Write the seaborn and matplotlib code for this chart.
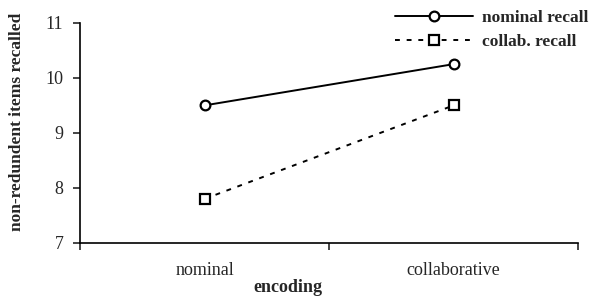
import seaborn as sns
import matplotlib.pyplot as plt
import pandas as pd
import numpy as np

# Data
encoding = ["nominal", "collaborative"]
nominal_recall = [9.5, 10.25]
collab_recall = [7.8, 9.5]
series_names = ["nominal recall", "collab. recall"]

sns.set_style("white")
plt.rcParams['font.family'] = ['Liberation Serif', 'DejaVu Serif']

pos = np.arange(len(encoding)) + 0.5
df = pd.DataFrame({
    'pos': list(pos) * 2,
    'encoding': encoding * 2,
    'recalled': nominal_recall + collab_recall,
    'series': [series_names[0]] * 2 + [series_names[1]] * 2,
})

fig = plt.figure(figsize=(5.93, 3.01), dpi=100)
ax = fig.add_axes([0.135, 0.193, 0.84, 0.731])

sns.lineplot(data=df, x='pos', y='recalled', style='series', style_order=series_names,
             markers={series_names[0]: 'o', series_names[1]: 's'},
             dashes={series_names[0]: '', series_names[1]: (2.5, 3.5)},
             color='black', linewidth=1.4, markersize=7, legend=False, ax=ax)

for line in ax.lines:
    line.set_markerfacecolor('white')
    line.set_markeredgecolor('black')
    line.set_markeredgewidth(1.6)

ax.set_xlim(0, 2)
ax.set_ylim(7, 11)
ax.set_yticks([7, 8, 9, 10, 11])
ax.set_xticks([0, 1, 2])
ax.set_xticklabels([])
ax.set_xticks(pos, minor=True)
ax.set_xticklabels(encoding, minor=True)
ax.tick_params(axis='x', which='minor', length=0, pad=14, labelsize=13)
ax.tick_params(axis='x', which='major', direction='out', length=5, width=1.2, bottom=True)
ax.tick_params(axis='y', direction='out', length=5, width=1.2, left=True, labelsize=13, pad=7)

sns.despine(ax=ax)
for s in ['left', 'bottom']:
    ax.spines[s].set_linewidth(1.2)
    ax.spines[s].set_color('black')

ax.set_xlabel("encoding", fontweight='bold', fontsize=13)
ax.xaxis.set_label_coords(0.418, -0.165)
ax.set_ylabel("non-redundent items recalled", fontweight='bold', fontsize=12.5)
ax.yaxis.set_label_coords(-0.11, 0.55)

leg = ax.legend(ax.lines, series_names, loc='upper right', bbox_to_anchor=(1.052, 1.13),
                frameon=False, handlelength=4.5, handletextpad=0.5, labelspacing=0.45,
                prop={'weight': 'bold', 'size': 12.5})

fig.savefig("out.png", dpi=100)
